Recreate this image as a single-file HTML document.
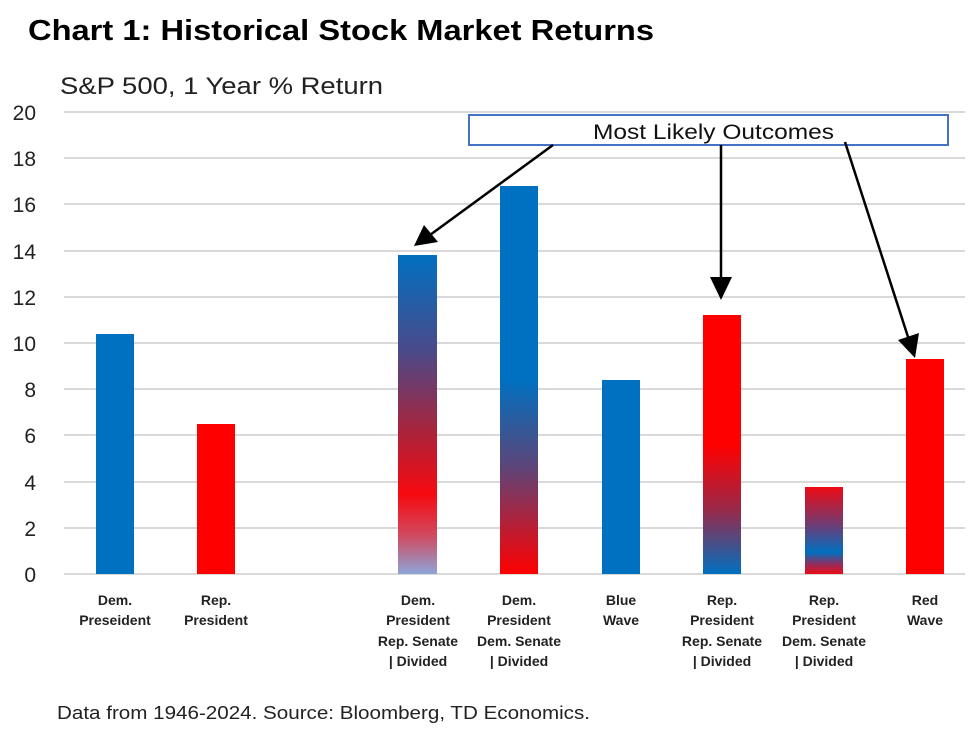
<!DOCTYPE html>
<html><head><meta charset="utf-8"><style>
body{margin:0;background:#fff;}
svg text{font-family:"Liberation Sans",sans-serif;}
</style></head><body>
<svg width="975" height="727" viewBox="0 0 975 727" xmlns="http://www.w3.org/2000/svg">
<defs>
<linearGradient id="g3" x1="0" y1="0" x2="0" y2="1">
<stop offset="0" stop-color="#0070c0"/><stop offset="0.3" stop-color="#4a4a8a"/><stop offset="0.55" stop-color="#a8243c"/><stop offset="0.75" stop-color="#f60a10"/><stop offset="0.88" stop-color="#d04a60"/><stop offset="1" stop-color="#8ea4d8"/></linearGradient>
<linearGradient id="g4" x1="0" y1="0" x2="0" y2="1">
<stop offset="0" stop-color="#0070c0"/><stop offset="0.5" stop-color="#0070c0"/><stop offset="0.72" stop-color="#5a467a"/><stop offset="1" stop-color="#ff0000"/></linearGradient>
<linearGradient id="g6" x1="0" y1="0" x2="0" y2="1">
<stop offset="0" stop-color="#ff0000"/><stop offset="0.5" stop-color="#ff0000"/><stop offset="0.75" stop-color="#9a2848"/><stop offset="1" stop-color="#0070c0"/></linearGradient>
<linearGradient id="g7" x1="0" y1="0" x2="0" y2="1">
<stop offset="0" stop-color="#ee0a14"/><stop offset="0.45" stop-color="#6a3e78"/><stop offset="0.75" stop-color="#0070c0"/><stop offset="0.88" stop-color="#8a3060"/><stop offset="1" stop-color="#ee0a14"/></linearGradient>
</defs>
<text x="28" y="40" font-size="29" font-weight="bold" fill="#000" textLength="626" lengthAdjust="spacingAndGlyphs">Chart 1: Historical Stock Market Returns</text>
<text x="60" y="94" font-size="24" fill="#222" textLength="323" lengthAdjust="spacingAndGlyphs">S&amp;P 500, 1 Year % Return</text>
<g stroke="#d9d9d9" stroke-width="2">
<line x1="64" x2="965" y1="112" y2="112"/><line x1="64" x2="965" y1="158" y2="158"/><line x1="64" x2="965" y1="204" y2="204"/><line x1="64" x2="965" y1="251" y2="251"/><line x1="64" x2="965" y1="297" y2="297"/><line x1="64" x2="965" y1="343" y2="343"/><line x1="64" x2="965" y1="389" y2="389"/><line x1="64" x2="965" y1="435" y2="435"/><line x1="64" x2="965" y1="482" y2="482"/><line x1="64" x2="965" y1="528" y2="528"/><line x1="64" x2="965" y1="574" y2="574"/>
</g>
<g font-size="21" fill="#222" text-anchor="end">
<text x="36" y="120">20</text><text x="36" y="166">18</text><text x="36" y="212">16</text><text x="36" y="259">14</text><text x="36" y="305">12</text><text x="36" y="351">10</text><text x="36" y="397">8</text><text x="36" y="443">6</text><text x="36" y="490">4</text><text x="36" y="536">2</text><text x="36" y="582">0</text>
</g>
<rect x="96" y="334" width="38" height="240" fill="#0070c0"/>
<rect x="197" y="424" width="38" height="150" fill="#ff0000"/>
<rect x="398" y="255" width="39" height="319" fill="url(#g3)"/>
<rect x="500" y="186" width="38" height="388" fill="url(#g4)"/>
<rect x="602" y="380" width="38" height="194" fill="#0070c0"/>
<rect x="703" y="315" width="38" height="259" fill="url(#g6)"/>
<rect x="805" y="487" width="38" height="87" fill="url(#g7)"/>
<rect x="906" y="359" width="38" height="215" fill="#ff0000"/>
<rect x="469" y="115" width="479" height="30" fill="#fff" stroke="#4472c4" stroke-width="2"/>
<text x="593" y="139" font-size="21" fill="#111" textLength="241" lengthAdjust="spacingAndGlyphs">Most Likely Outcomes</text>
<g stroke="#000" stroke-width="2.5">
<line x1="553" y1="145" x2="430" y2="235"/>
<line x1="721" y1="145" x2="721" y2="282"/>
<line x1="845" y1="142" x2="909" y2="340"/>
</g>
<polygon points="414,246 424,225 438,242" fill="#000"/>
<polygon points="721,300 710,277 732,277" fill="#000"/>
<polygon points="915,358 898,340 919,333" fill="#000"/>
<g font-size="14" font-weight="bold" fill="#222" text-anchor="middle">
<text x="115" y="605">Dem.</text><text x="115" y="625">Preseident</text>
<text x="216" y="605">Rep.</text><text x="216" y="625">President</text>
<text x="418" y="605">Dem.</text><text x="418" y="625">President</text><text x="418" y="646">Rep. Senate</text><text x="418" y="666">| Divided</text>
<text x="519" y="605">Dem.</text><text x="519" y="625">President</text><text x="519" y="646">Dem. Senate</text><text x="519" y="666">| Divided</text>
<text x="621" y="605">Blue</text><text x="621" y="625">Wave</text>
<text x="722" y="605">Rep.</text><text x="722" y="625">President</text><text x="722" y="646">Rep. Senate</text><text x="722" y="666">| Divided</text>
<text x="824" y="605">Rep.</text><text x="824" y="625">President</text><text x="824" y="646">Dem. Senate</text><text x="824" y="666">| Divided</text>
<text x="925" y="605">Red</text><text x="925" y="625">Wave</text>
</g>
<text x="57" y="719" font-size="18" fill="#222" textLength="533" lengthAdjust="spacingAndGlyphs">Data from 1946-2024. Source: Bloomberg, TD Economics.</text>
</svg>
</body></html>
